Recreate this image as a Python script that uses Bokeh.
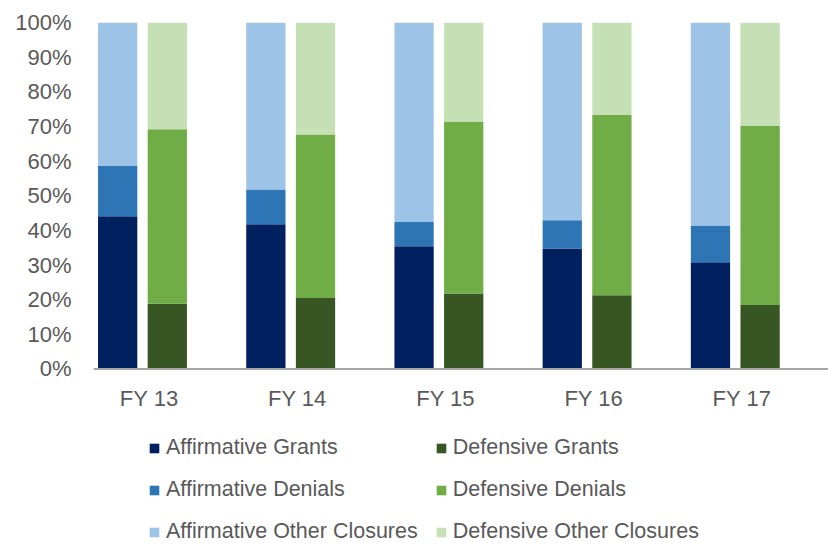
import numpy as np
from bokeh.plotting import figure
from bokeh.core.properties import value
from bokeh.models import (ColumnDataSource, Range1d, FixedTicker, PrintfTickFormatter,
                          Legend, LegendItem, Span)
from bokeh.embed import file_html
from bokeh.resources import INLINE

# ---- data (percent of completions) ----
categories = ["FY 13", "FY 14", "FY 15", "FY 16", "FY 17"]
aff_grants = [44.1, 41.8, 35.4, 34.8, 30.8]
aff_denials = [14.5, 10.0, 7.0, 8.1, 10.6]
aff_other = [41.4, 48.2, 57.6, 57.1, 58.6]
def_grants = [18.8, 20.5, 21.8, 21.3, 18.5]
def_denials = [50.4, 47.2, 49.6, 52.0, 51.6]
def_other = [30.8, 32.3, 28.6, 26.7, 29.9]
y_ticks = [0, 10, 20, 30, 40, 50, 60, 70, 80, 90, 100]

aff_names = ["Affirmative Grants", "Affirmative Denials", "Affirmative Other Closures"]
def_names = ["Defensive Grants", "Defensive Denials", "Defensive Other Closures"]
aff_colors = ["#002060", "#2E75B6", "#9DC3E6"]
def_colors = ["#375623", "#70AD47", "#C5E0B4"]

FONT = "Liberation Sans"
TXT = "#595959"

idx = np.arange(len(categories))
src = ColumnDataSource(dict(
    x_aff=idx - 0.1675, x_def=idx + 0.1675, x_lab=idx + 0.045,
    y0=[0] * len(categories), lab=categories,
    ag=aff_grants, ad=aff_denials, ao=aff_other,
    dg=def_grants, dd=def_denials, do=def_other,
))

# frame spans from the 100% line down to the bottom of the page;
# the lower part holds category labels and legend
p = figure(width=828, height=545, output_backend="svg", toolbar_location=None,
           x_range=Range1d(-0.3306, 4.629), y_range=Range1d(-50.94, 100),
           min_border_left=93, min_border_right=0, min_border_top=22,
           min_border_bottom=0)
p.outline_line_color = None
p.xgrid.visible = False
p.ygrid.visible = False
p.xaxis.visible = False

r_aff = p.vbar_stack(["ag", "ad", "ao"], x="x_aff", width=0.265, color=aff_colors,
                     line_color=None, source=src)
r_def = p.vbar_stack(["dg", "dd", "do"], x="x_def", width=0.265, color=def_colors,
                     line_color=None, source=src)

# category axis line and labels
p.add_layout(Span(location=0, dimension="width", line_color="#A6A6A6", line_width=2))
p.text(x="x_lab", y="y0", text="lab", source=src, y_offset=17,
       text_align="center", text_baseline="top", text_font=value(FONT),
       text_font_size="22px", text_color=TXT)

# y axis
p.yaxis.ticker = FixedTicker(ticks=y_ticks)
p.yaxis.formatter = PrintfTickFormatter(format="%d%%")
p.yaxis.axis_line_color = None
p.yaxis.major_tick_line_color = None
p.yaxis.minor_tick_line_color = None
p.yaxis.major_tick_out = 0
p.yaxis.minor_tick_out = 0
p.yaxis.major_label_standoff = 22
p.yaxis.major_label_text_font = FONT
p.yaxis.major_label_text_font_size = "22px"
p.yaxis.major_label_text_color = TXT

items = [LegendItem(label=n, renderers=[r]) for n, r in zip(aff_names, r_aff)]
items += [LegendItem(label=n, renderers=[r]) for n, r in zip(def_names, r_def)]
legend = Legend(items=items, location=(55, 1), orientation="vertical", nrows=3,
                glyph_width=12, glyph_height=12, label_standoff=6, spacing=17,
                padding=0, margin=0, border_line_alpha=0, background_fill_alpha=0,
                label_text_font=FONT, label_text_font_size="21.5px",
                label_text_color=TXT)
p.add_layout(legend, "center")

open("out.html", "w").write(file_html(p, INLINE))
